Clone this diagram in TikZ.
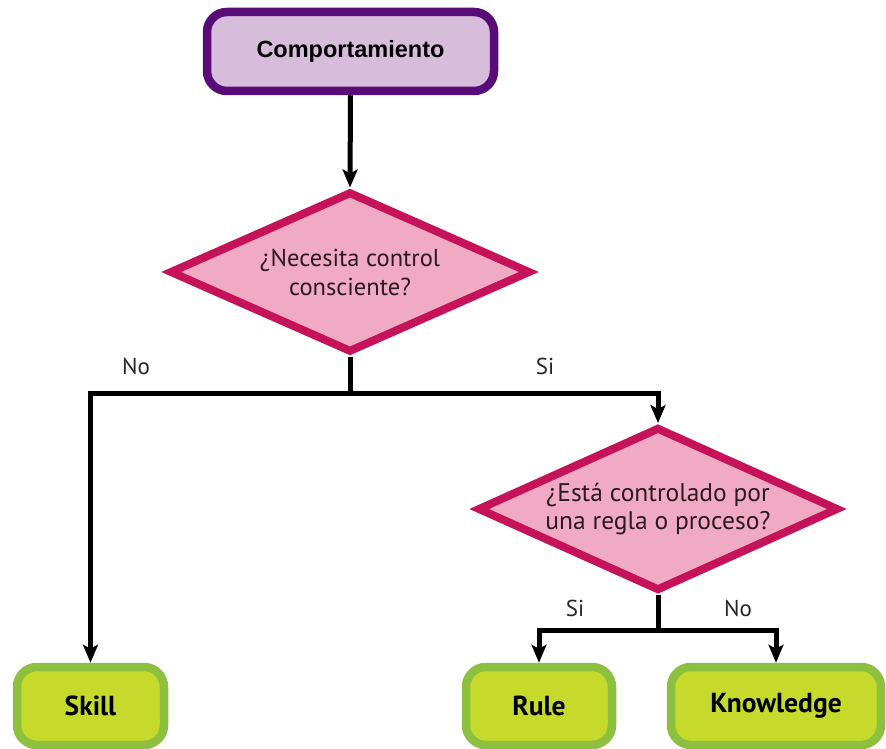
\documentclass[tikz,border=0pt]{standalone}
\usepackage{fontspec}
\setmainfont{PT Sans}
\newfontfamily\headfont{Liberation Sans}
\newfontfamily\leaffont{PT Sans}
\usetikzlibrary{shapes.geometric,arrows.meta}

\definecolor{startline}{RGB}{88,12,120}
\definecolor{startfill}{RGB}{215,188,220}
\definecolor{askline}{RGB}{198,18,88}
\definecolor{askfill}{RGB}{240,170,196}
\definecolor{leafline}{RGB}{140,192,62}
\definecolor{leaffill}{RGB}{197,218,42}
\definecolor{asktext}{RGB}{45,25,35}

\tikzset{
  startbox/.style={draw=startline, fill=startfill, line width=8.5pt,
    rounded corners=20pt, minimum width=287pt, minimum height=79pt,
    inner sep=0pt, font=\headfont\bfseries\fontsize{23.5}{27}\selectfont},
  askbox/.style={diamond, draw=askline, fill=askfill, line width=8pt,
    minimum width=361pt, minimum height=161pt, inner sep=0pt, aspect=2,
    align=center, text=asktext},
  leafbox/.style={draw=leafline, fill=leaffill, line width=8.5pt,
    rounded corners=20pt, minimum height=78pt, inner sep=0pt,
    font=\leaffont\bfseries\fontsize{27.5}{30}\selectfont},
  link/.style={line width=5pt, black},
  flow/.style={link, -{Stealth[length=18pt,width=15pt,inset=4pt]}},
  branch/.style={font=\fontsize{23}{26}\selectfont, text=black!85}
}

\begin{document}
\begin{tikzpicture}[x=1pt,y=-1pt]
  \useasboundingbox[fill=white] (0,0) rectangle (886,749);

  % decision nodes
  \node[startbox] (start) at (350.5,51.5) {Comportamiento};
  \node[askbox, font=\fontsize{24.5}{29}\selectfont] (ask1) at (350,272)
    {¿Necesita control\\consciente?};
  \node[askbox, font=\fontsize{25.5}{27.5}\selectfont] (ask2) at (658,509)
    {¿Está controlado por\\una regla o proceso?};

  % outcomes
  \node[leafbox, minimum width=147pt] (skill) at (90.5,706) {Skill};
  \node[leafbox, minimum width=146pt] (rule) at (539,706) {Rule};
  \node[leafbox, minimum width=210pt] (know) at (776,706) {Knowledge};

  % branch junctions
  \coordinate (j1) at (350,393);
  \coordinate (j2) at (658,630);

  \draw[flow] (start.south) -- (ask1.north);
  \draw[link] (ask1.south) -- (j1);
  \draw[flow] (j1) -| (skill.north);
  \draw[flow] (j1) -| (ask2.north);
  \draw[link] (ask2.south) -- (j2);
  \draw[flow] (j2) -| (rule.north);
  \draw[flow] (j2) -| (know.north);

  % branch labels
  \node[branch] (no1) at (136,366) {No};
  \node[branch] (si1) at (545,366) {Si};
  \node[branch] (si2) at (575,608) {Si};
  \node[branch] (no2) at (738,608) {No};
\end{tikzpicture}
\end{document}
